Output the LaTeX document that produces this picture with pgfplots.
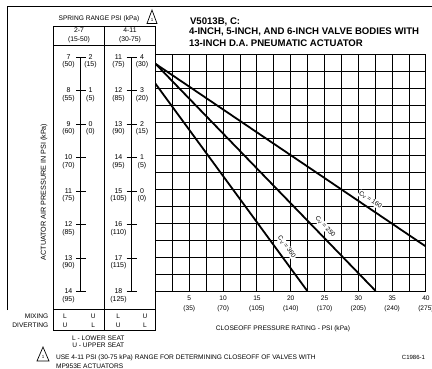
\documentclass[border=0pt]{standalone}
\usepackage{fontspec}
\setmainfont{Liberation Sans}
\usepackage{pgfplots}
\pgfplotsset{compat=1.18}

\newcommand\fs[1]{\fontsize{#1}{#1}\selectfont}
\newcommand\tickfont{\fontsize{6.6}{10}\selectfont}
\newcommand\cv[1]{C\raisebox{-0.35ex}{\fontsize{4.6}{5}\selectfont V} = #1}

\begin{document}
\begin{tikzpicture}[x=1pt,y=1pt]
\useasboundingbox (0,0) rectangle (432,-368);

% outer frame (top and left only)
\draw[line width=0.9] (7,-310) -- (7,-6) -- (432,-6);

% title
\node[anchor=west,font=\bfseries\fs{9.6}] at (186.5,-21.7) {V5013B, C:};
\node[anchor=west,font=\bfseries\fs{9.6}] at (185.5,-31.9) {4-INCH, 5-INCH, AND 6-INCH VALVE BODIES WITH};
\node[anchor=west,font=\bfseries\fs{9.6}] at (185.5,-42.7) {13-INCH D.A. PNEUMATIC ACTUATOR};

\begin{axis}[
    at={(155.5pt,-291pt)}, anchor=south west,
    width=270.5pt, height=236.5pt, scale only axis,
    xmin=0, xmax=40, ymin=7, ymax=14, y dir=reverse,
    xtick={0,5,...,40}, minor xtick={2.5,7.5,...,37.5},
    ytick={7,...,14}, minor ytick={7.5,8.5,...,13.5},
    yticklabels={},
    xticklabels={,5\\(35),10\\(70),15\\(105),20\\(140),25\\(170),30\\(205),35\\(240),40\\(275)},
    xticklabel style={align=center,font=\tickfont,yshift=-1.6pt},
    grid=both,
    major grid style={black,line width=1pt},
    minor grid style={black,line width=1pt},
    major tick length=0pt, minor tick length=0pt,
    axis line style={black,line width=1pt},
  ]
  % Cv = 160
  \addplot[black,line width=1.8pt,no marks] coordinates {(0,7.275) (40,12.685)};
  % Cv = 250
  \addplot[black,line width=1.8pt,no marks] coordinates {(0,7.275) (32.56,14)};
  % Cv = 360
  \addplot[black,line width=1.8pt,no marks] coordinates {(0,7.865) (22.45,14)};

  \node[rotate=-34,anchor=south,yshift=3.8pt,fill=white,inner sep=0.7pt,font=\fs{6.4}] at (axis cs:31.14,11.487) {\cv{160}};
  \node[rotate=-46,anchor=south,yshift=4.6pt,fill=white,inner sep=0.7pt,font=\fs{6.4}] at (axis cs:24.2,12.273) {\cv{250}};
  \node[rotate=-54,anchor=south,yshift=5.4pt,fill=white,inner sep=0.7pt,font=\fs{6.4}] at (axis cs:18.29,12.863) {\cv{360}};
\end{axis}

\node[font=\fs{6.6}] at (283,-328.4) {CLOSEOFF PRESSURE RATING - PSI (kPa)};

% spring range table
\node[font=\fs{6.6}] at (99,-18.5) {SPRING RANGE PSI (kPa)};
\draw[line width=0.7] (147,-23.5) -- (157,-23.5) -- (152,-10) -- cycle;
\node[font=\fs{4.5}] at (152.2,-19.8) {1};

\draw[line width=1] (53,-26.5) rectangle (155.5,-330);
\draw[line width=1] (53,-45.3) -- (155.5,-45.3);
\draw[line width=1] (53,-309) -- (155.5,-309);
\draw[line width=1] (104.5,-26.5) -- (104.5,-330);

\node[font=\fs{6.8}] at (79,-30.3) {2-7};
\node[font=\fs{6.8}] at (79,-39.6) {(15-50)};
\node[font=\fs{6.8}] at (130,-30.3) {4-11};
\node[font=\fs{6.8}] at (130,-39.6) {(30-75)};

\node[rotate=90,font=\fs{7.2}] at (44,-192) {ACTUATOR AIR PRESSURE IN PSI (kPa)};

% 2-7 scale
\draw[line width=1] (80.7,-57.3) -- (80.7,-291.7);
\foreach \p/\k [count=\i from 0] in {7/50,8/55,9/60,10/70,11/75,12/85,13/90,14/95} {
  \pgfmathsetmacro\yy{-(57.3+\i*33.49)}
  \draw[line width=1] (76,\yy) -- (86,\yy);
  \node[font=\fs{7}] at (68.5,\yy+0.3) {\p};
  \node[font=\fs{7}] at (68.5,\yy-7.6) {(\k)};
}
\foreach \p/\k [count=\i from 0] in {2/15,1/5,0/0} {
  \pgfmathsetmacro\yy{-(57.3+\i*33.49)}
  \node[font=\fs{7}] at (90.5,\yy+0.3) {\p};
  \node[font=\fs{7}] at (90.5,\yy-7.6) {(\k)};
}

% 4-11 scale
\draw[line width=1] (131.7,-57.3) -- (131.7,-291.7);
\foreach \p/\k [count=\i from 0] in {11/75,12/85,13/90,14/95,15/105,16/110,17/115,18/125} {
  \pgfmathsetmacro\yy{-(57.3+\i*33.49)}
  \draw[line width=1] (126.7,\yy) -- (136.7,\yy);
  \node[font=\fs{7}] at (118.5,\yy+0.3) {\p};
  \node[font=\fs{7}] at (118.5,\yy-7.6) {(\k)};
}
\foreach \p/\k [count=\i from 0] in {4/30,3/20,2/15,1/5,0/0} {
  \pgfmathsetmacro\yy{-(57.3+\i*33.49)}
  \node[font=\fs{7}] at (142,\yy+0.3) {\p};
  \node[font=\fs{7}] at (142,\yy-7.6) {(\k)};
}

% seat rows
\node[anchor=east,font=\fs{6.6}] at (51.8,-316.7) {MIXING};
\node[anchor=east,font=\fs{6.6}] at (51.8,-325) {DIVERTING};
\foreach \x/\a/\b in {65/L/U,93.3/U/L,118.3/L/U,145/U/L} {
  \node[font=\fs{6.6}] at (\x,-316.7) {\a};
  \node[font=\fs{6.6}] at (\x,-325) {\b};
}
\node[font=\fs{6.6}] at (98.3,-338.3) {L - LOWER SEAT};
\node[font=\fs{6.6}] at (98.3,-345.6) {U - UPPER SEAT};

% footnote
\draw[line width=0.7] (37,-361) -- (49,-361) -- (43,-347) -- cycle;
\node[font=\fs{4.5}] at (43.2,-357.3) {1};
\node[anchor=west,font=\fs{6.6}] at (52.5,-357.5) {USE 4-11 PSI (30-75 kPa) RANGE FOR DETERMINING CLOSEOFF OF VALVES WITH};
\node[anchor=west,font=\fs{6.6}] at (52.5,-366) {MP953E ACTUATORS};
\node[font=\fs{6}] at (413.5,-357) {C1986-1};
\end{tikzpicture}
\end{document}
